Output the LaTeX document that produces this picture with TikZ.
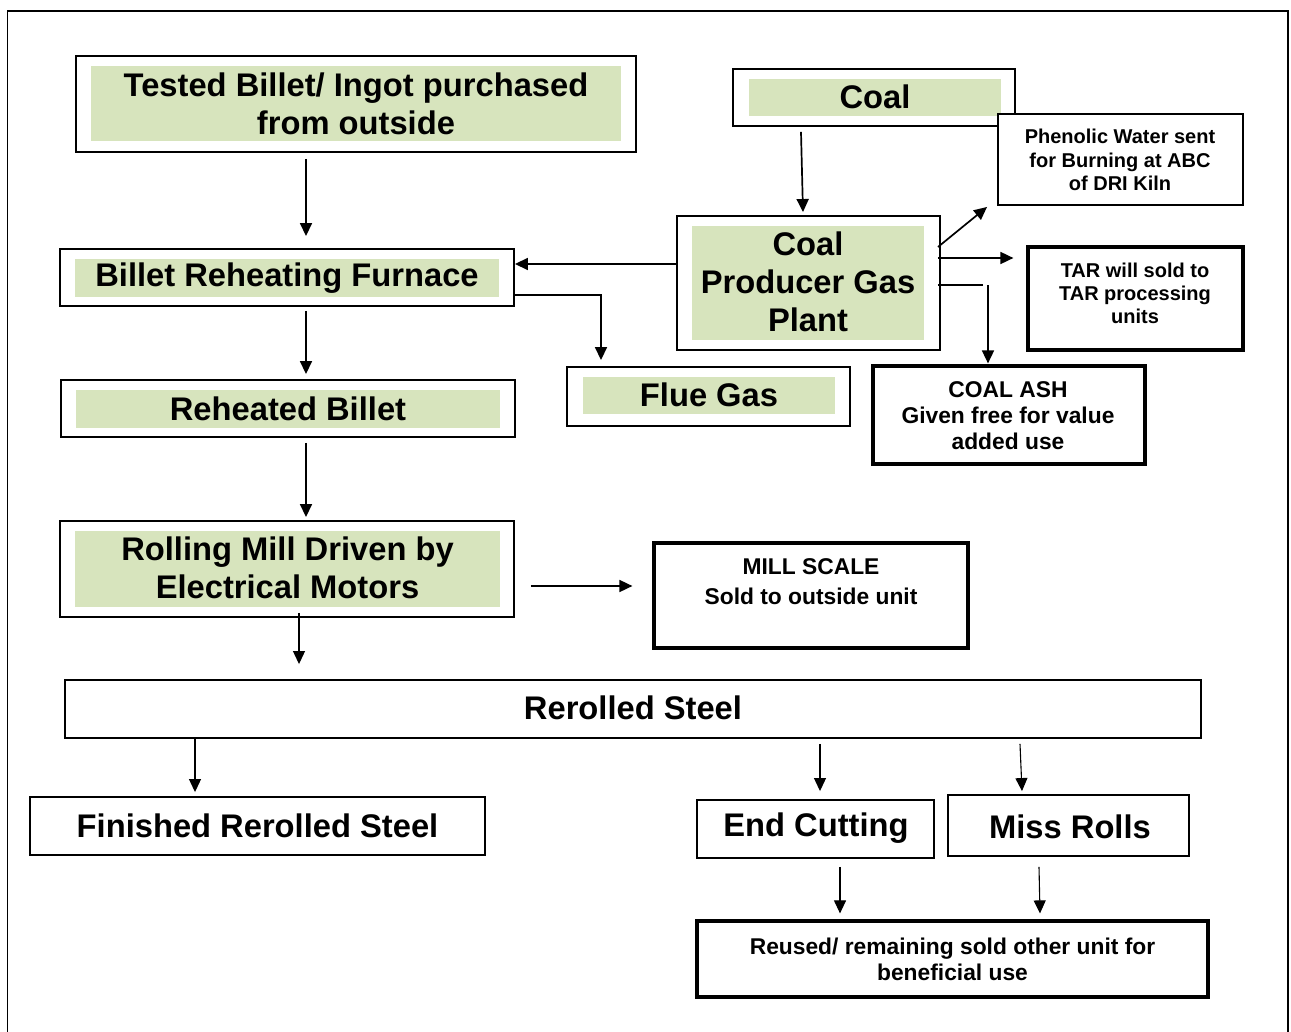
\documentclass[tikz,border=0pt]{standalone}
\usepackage{fontspec}
\setmainfont{Liberation Sans}
\usetikzlibrary{arrows.meta}
\definecolor{lgreen}{RGB}{215,228,189}
\newcommand\bigf{\fontsize{32.7}{38}\selectfont\bfseries}
\newcommand\midf{\fontsize{22.8}{26}\selectfont\bfseries}
\newcommand\smlf{\fontsize{20}{23.3}\selectfont\bfseries}
\tikzset{
  obox/.style={draw=black, line width=1.9pt, fill=white, inner sep=0pt},
  tbox/.style={draw=black, line width=3.2pt, fill=white, inner sep=0pt},
  gbox/.style={fill=lgreen, inner sep=0pt},
  txt/.style={inner sep=0pt, align=center, text=black},
  arr/.style={line width=1.7pt, -{Triangle[length=13pt,width=12pt]}},
  thinarr/.style={line width=1.1pt, -{Triangle[length=13pt,width=12pt]}},
  ln/.style={line width=1.7pt}
}
\begin{document}
\begin{tikzpicture}[x=1pt,y=-1pt]
\useasboundingbox (0,0) rectangle (1291,1032);
\fill[white] (0,0) rectangle (1291,1032);
\draw[line width=1.5pt] (7.5,11) rectangle (1288,1050);

% Tested billet
\node[obox, minimum width=560, minimum height=96] (tested) at (356,104) {};
\node[gbox, minimum width=530, minimum height=75] (testedg) at (356,103.5) {};
\node[txt, font=\bigf] (testedt) at (356,103.5) {Tested Billet/ Ingot purchased\\from outside};

% Billet reheating furnace
\node[obox, minimum width=454, minimum height=57] (furn) at (287,277.5) {};
\node[gbox, minimum width=424, minimum height=38] (furng) at (287,278) {};
\node[txt, font=\bigf] (furnt) at (287,278) {Billet Reheating Furnace};

% Reheated billet
\node[obox, minimum width=454, minimum height=57] (reh) at (288,408.5) {};
\node[gbox, minimum width=424, minimum height=38] (rehg) at (288,409) {};
\node[txt, font=\bigf] (reht) at (288,409) {Reheated Billet};

% Rolling mill
\node[obox, minimum width=454, minimum height=96] (roll) at (287,569) {};
\node[gbox, minimum width=425, minimum height=76] (rollg) at (287.5,569) {};
\node[txt, font=\bigf] (rollt) at (287.5,568) {Rolling Mill Driven by\\Electrical Motors};

% Mill scale
\node[tbox, minimum width=314, minimum height=105] (mill) at (811,595.5) {};
\node[txt, font=\fontsize{22.8}{30}\selectfont\bfseries] (millt) at (811,582) {MILL SCALE\\Sold to outside unit};

% Rerolled steel
\node[obox, minimum width=1136, minimum height=58] (rer) at (633,709) {};
\node[txt, font=\bigf] (rert) at (633,708) {Rerolled Steel};

% Finished
\node[obox, minimum width=455, minimum height=58] (fin) at (257.5,826) {};
\node[txt, font=\bigf] (fint) at (257.5,826) {Finished Rerolled Steel};

% End cutting
\node[obox, minimum width=237, minimum height=58] (endc) at (815.5,829) {};
\node[txt, font=\bigf] (endct) at (816,828) {End Cutting};

% Miss rolls
\node[obox, minimum width=241, minimum height=61] (miss) at (1068.5,825.5) {};
\node[txt, font=\bigf] (misst) at (1070,827) {Miss Rolls};

% Reused
\node[tbox, minimum width=511, minimum height=76] (reuse) at (952.5,959) {};
\node[txt, font=\midf] (reuset) at (952.5,959) {Reused/ remaining sold other unit for\\beneficial use};

% Coal
\node[obox, minimum width=282, minimum height=57] (coal) at (874,97.5) {};
\node[gbox, minimum width=252, minimum height=37] (coalg) at (875,97.5) {};
\node[txt, font=\bigf] (coalt) at (875,97) {Coal};

% Phenolic water
\node[obox, minimum width=245, minimum height=91] (phen) at (1120.5,159.5) {};
\node[txt, font=\smlf] (phent) at (1120,160) {Phenolic Water sent\\for Burning at ABC\\of DRI Kiln};

% Coal producer gas plant
\node[obox, minimum width=263, minimum height=134] (plant) at (808.5,283) {};
\node[gbox, minimum width=232, minimum height=114] (plantg) at (808,283) {};
\node[txt, font=\bigf] (plantt) at (808,282) {Coal\\Producer Gas\\Plant};

% TAR
\node[tbox, minimum width=215, minimum height=103] (tar) at (1135.5,298.5) {};
\node[txt, font=\smlf] (tart) at (1135,293.5) {TAR will sold to\\TAR processing\\units};

% Coal ash
\node[tbox, minimum width=272, minimum height=98] (ash) at (1009,415) {};
\node[txt, font=\midf] (asht) at (1008,416) {COAL ASH\\Given free for value\\added use};

% Flue gas
\node[obox, minimum width=283, minimum height=59] (flue) at (708.5,396.5) {};
\node[gbox, minimum width=252, minimum height=37] (flueg) at (709,395.5) {};
\node[txt, font=\bigf] (fluet) at (709,395) {Flue Gas};

% Connectors
\draw[arr] ([shift={(-50,6)}]tested.south) -- ([shift={(19,-12)}]furn.north);
\draw[arr] ([shift={(19,4)}]furn.south) -- ([shift={(18,-5)}]reh.north);
\draw[arr] ([shift={(18,5)}]reh.south) -- ([shift={(19,-3)}]roll.north);
\draw[thinarr] ([shift={(12,-5)}]roll.south) -- ([shift={(-334,-15)}]rer.north);
\draw[arr] ([shift={(16,17)}]roll.east) -- ([shift={(-20,-9.5)}]mill.west);
\draw[thinarr] ([shift={(-438,0)}]rer.south) -- ([shift={(-62.5,-4)}]fin.north);
\draw[thinarr] ([shift={(187,5)}]rer.south) -- ([shift={(4.5,-8)}]endc.north);
\draw[thinarr] ([shift={(387,5)}]rer.south) -- ([shift={(-46.5,-3)}]miss.north);
\draw[thinarr] ([shift={(24.5,8)}]endc.south) -- ([shift={(-112.5,-6)}]reuse.north);
\draw[thinarr] ([shift={(-29.5,10)}]miss.south) -- ([shift={(87.5,-6)}]reuse.north);
\draw[arr] ([shift={(-73,5)}]coal.south) -- ([shift={(-5.5,-3)}]plant.north);
\draw[arr] ([shift={(-3,-36)}]plant.east) -- ([shift={(-10,1)}]phen.south west);
\draw[arr] ([shift={(-3,-25)}]plant.east) -- ([shift={(-13,-40.5)}]tar.west);
\coordinate (ashend) at ([shift={(42,2)}]plant.east);
\draw[ln] ([shift={(-3,2)}]plant.east) -- (ashend);
\draw[arr] ([shift={(-21,-79)}]ash.north) -- ([shift={(-21,-1)}]ash.north);
\draw[arr] ([shift={(0,-19)}]plant.west) -- ([shift={(0,-13.5)}]furn.east);
\draw[arr] ([shift={(0,17.5)}]furn.east) -| ([shift={(-107.5,-6)}]flue.north);
\end{tikzpicture}
\end{document}
